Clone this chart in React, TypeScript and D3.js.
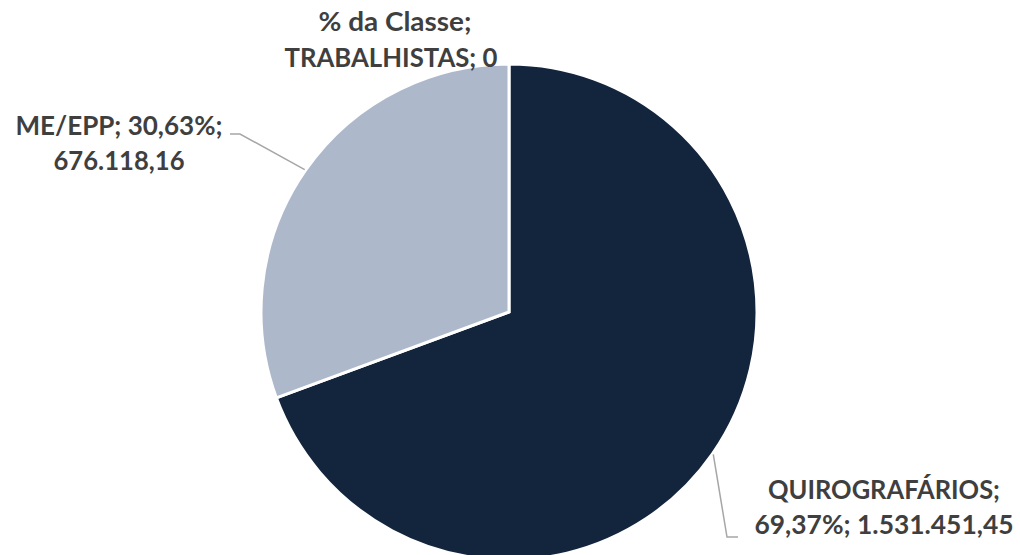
import React from "react";
import * as d3 from "d3";

// data
const seriesName = "% da Classe";
const categories = ["TRABALHISTAS", "QUIROGRAFÁRIOS", "ME/EPP"];
const values = [0, 1531451.45, 676118.16];
const colors = ["#7F8FA8", "#13243D", "#ADB9CB"];

// label placement (Excel moved these by hand)
const labelLines = [1, 1, 2]; // how many parts go on the first line
const labelPos = [
  { x: [395, 391], y: [31, 67], w: [153, 213] },
  { x: [884, 884], y: [499, 534], w: [232, 259] },
  { x: [119, 119], y: [135, 170], w: [207, 131] },
];
const leaderElbows = [null, [[727, 537], [738, 537]], [[240, 134], [230, 134]]];

const ptBR = d3.formatLocale({
  decimal: ",",
  thousands: ".",
  grouping: [3],
  currency: ["R$ ", ""],
  percent: "%",
});
const fmtVal = (v: number) => (v === 0 ? "0" : ptBR.format(",.2f")(v));
const fmtPct = ptBR.format(".2%");

const W = 1020;
const H = 555;
const cx = 509;
const cy = 312;
const R = 248;

export default function App() {
  const total = d3.sum(values);
  const data = categories.map((c, i) => ({ cat: c, value: values[i], i }));
  const pie = d3
    .pie<any>()
    .sort(null)
    .value((d) => d.value)
    .startAngle(0)
    .endAngle(2 * Math.PI);
  const arcs = pie(data);
  const arc = d3.arc<any>().innerRadius(0).outerRadius(R);
  const edge = d3.arc<any>().innerRadius(R + 1).outerRadius(R + 1);

  const line = d3.line();

  return (
    <svg
      width={W}
      height={H}
      style={{ position: "absolute", left: 0, top: 0, background: "#fff" }}
    >
      <g transform={`translate(${cx},${cy})`}>
        {arcs.map((a, i) =>
          a.value > 0 ? (
            <path
              key={i}
              d={arc(a) as string}
              fill={colors[i]}
              stroke="#fff"
              strokeWidth={3}
            />
          ) : null
        )}
      </g>
      {arcs.map((a, i) => {
        const el = leaderElbows[i];
        if (!el || a.value === 0) return null;
        const [ex, ey] = edge.centroid(a);
        const pts: [number, number][] = [[cx + ex, cy + ey], ...(el as [number, number][])];
        return (
          <path
            key={"l" + i}
            d={line(pts) as string}
            fill="none"
            stroke="#A6A6A6"
            strokeWidth={1.5}
          />
        );
      })}
      {data.map((d, i) => {
        const parts =
          d.value === 0
            ? [seriesName, d.cat, fmtVal(d.value)]
            : [d.cat, fmtPct(d.value / total), fmtVal(d.value)];
        const n = labelLines[i];
        const lines = [
          parts.slice(0, n).join("; ") + ";",
          parts.slice(n).join("; "),
        ];
        const p = labelPos[i];
        return (
          <g key={"t" + i}>
            {lines.map((t, j) => (
              <text
                key={j}
                x={p.x[j]}
                y={p.y[j]}
                textAnchor="middle"
                fontFamily="Lato, 'Open Sans', sans-serif"
                fontWeight="bold"
                fontSize={26}
                fill="#3F3F3F"
                textLength={p.w[j]}
                lengthAdjust="spacingAndGlyphs"
              >
                {t}
              </text>
            ))}
          </g>
        );
      })}
    </svg>
  );
}
